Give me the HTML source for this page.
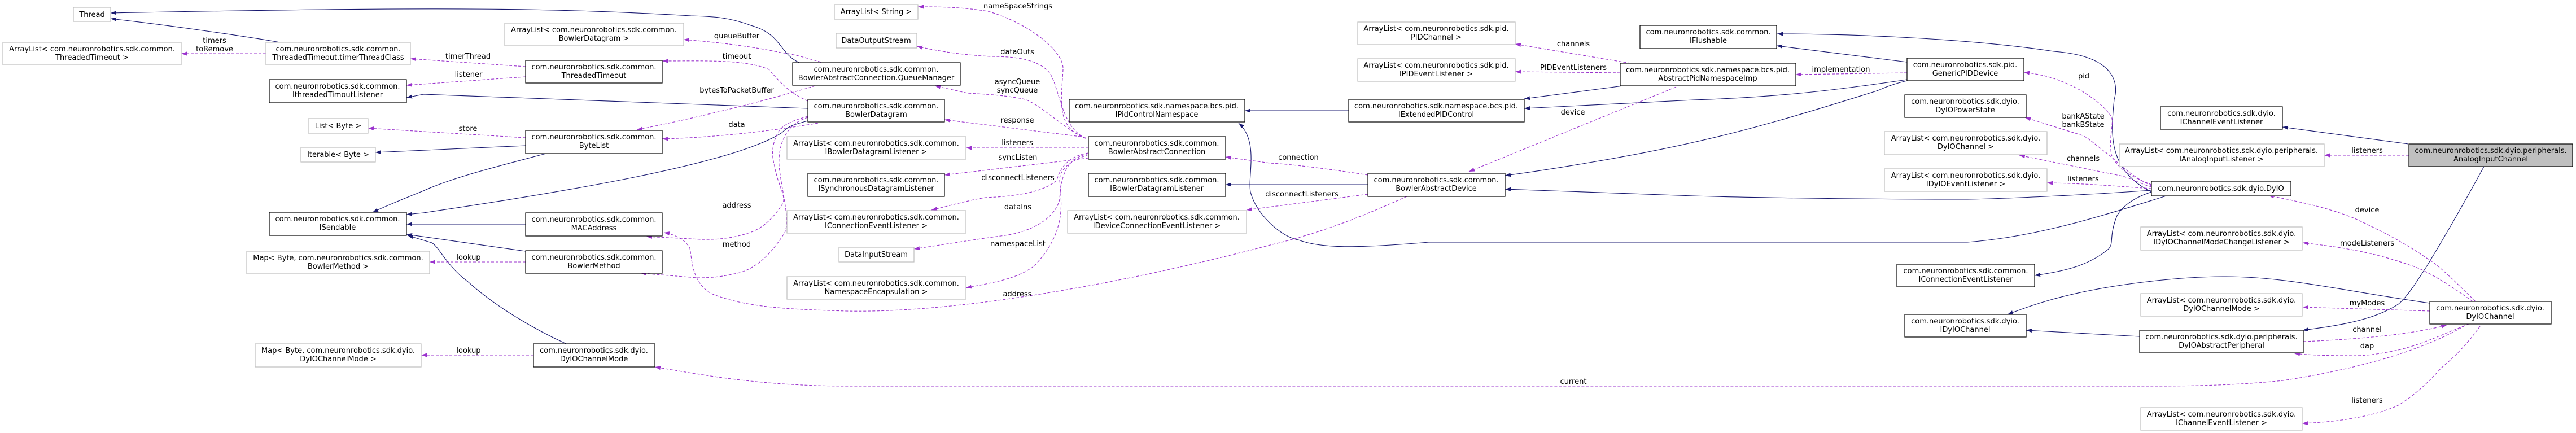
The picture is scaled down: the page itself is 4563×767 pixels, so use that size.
<!DOCTYPE html>
<html><head><meta charset="utf-8"><style>
html,body{margin:0;padding:0;background:#fff;}
svg{display:block;}
text{font-family:"DejaVu Sans","Liberation Sans",sans-serif;font-size:13px;fill:#000;}
.n text{text-anchor:middle;}
.l{text-anchor:middle;}
.s{fill:none;stroke:#191970;stroke-width:1.1;marker-end:url(#mb);}
.d{fill:none;stroke:#9a32cd;stroke-width:1.1;stroke-dasharray:5,3;marker-end:url(#mp);}
.g{fill:#fff;stroke:#bfbfbf;stroke-width:1.2;}
.b{fill:#fff;stroke:#000;stroke-width:1.2;}
.h{fill:#bfbfbf;stroke:#000;stroke-width:1.2;}
</style></head><body>
<svg width="4563" height="767" viewBox="0 0 4563 767" xmlns="http://www.w3.org/2000/svg">
<defs>
<marker id="mb" markerUnits="userSpaceOnUse" markerWidth="11" markerHeight="8" refX="10" refY="3.5" orient="auto"><path d="M0,0 L10,3.5 L0,7 z" fill="#191970"/></marker>
<marker id="mp" markerUnits="userSpaceOnUse" markerWidth="11" markerHeight="8" refX="10" refY="3.5" orient="auto"><path d="M0,0 L10,3.5 L0,7 z" fill="#9a32cd"/></marker>
</defs>

<!-- solid edges -->
<path class="s" d="M496,75 C420,62 300,45 196,33"/>
<path class="s" d="M1416,111 C1380,95 1385,60 1330,45 C1290,30 1260,29 1224,28 C1000,15 800,11 196,23"/>
<path class="s" d="M1431,192 L750,167 L720,173"/>
<path class="s" d="M931,258 L665,270"/>
<path class="s" d="M967,272 C880,295 800,315 750,338 C720,350 690,362 660,376"/>
<path class="s" d="M1431,214 C1400,222 1395,225 1385,235 C1300,290 1000,340 750,377 L720,380"/>
<path class="s" d="M931,397 L720,397"/>
<path class="s" d="M931,445 L720,415"/>
<path class="s" d="M1003,609 C950,585 880,545 830,500 C790,470 780,440 765,430 L722,417"/>
<path class="s" d="M2389,196 L2205,196"/>
<path class="s" d="M3837,347 C3700,390 3600,420 3485,429 L2531,429 C2400,440 2340,440 2300,425 C2270,420 2225,380 2215,340 C2210,310 2230,250 2194,218"/>
<path class="s" d="M2875,152 L2700,175"/>
<path class="s" d="M3378,141 C3250,160 3150,172 3000,177 L2700,192"/>
<path class="s" d="M3378,110 L3147,81"/>
<path class="s" d="M3811,340 C3730,300 3740,230 3745,176 C3750,160 3760,100 3638,91 C3500,70 3300,60 3148,60"/>
<path class="s" d="M3378,143 C3340,152 3330,160 3321,162 C3200,200 3100,230 3000,252 C2900,275 2750,300 2666,311"/>
<path class="s" d="M3811,337 C3700,345 3550,352 3485,353 C3300,353 3100,350 3000,347 L2666,335"/>
<path class="s" d="M3811,340 C3780,350 3760,365 3750,382 C3735,420 3745,430 3735,441 C3700,470 3660,480 3604,488"/>
<path class="s" d="M4304,537 C4150,515 4050,490 3942,490 C3850,490 3750,505 3700,515 C3640,527 3600,540 3556,557"/>
<path class="s" d="M3790,596 L3589,585"/>
<path class="s" d="M4400,295 C4370,350 4330,420 4299,471 C4280,500 4265,525 4248,539 C4200,570 4130,578 4079,585"/>
<path class="s" d="M4266,255 L4043,225"/>
<path class="s" d="M2423,327 L2171,327"/>

<!-- dashed edges -->
<path class="d" d="M471,95 L321,95"/>
<path class="d" d="M931,118 L727,104"/>
<path class="d" d="M931,136 L720,151"/>
<path class="d" d="M931,244 L652,227"/>
<path class="d" d="M931,464 L761,464"/>
<path class="d" d="M945,629 L746,629"/>
<path class="d" d="M1454,110 C1420,100 1400,95 1383,93 C1320,80 1260,74 1211,70"/>
<path class="d" d="M1431,179 C1400,165 1385,150 1362,123 C1320,105 1250,108 1173,108"/>
<path class="d" d="M1444,152 C1350,180 1250,205 1128,230"/>
<path class="d" d="M1449,218 C1350,235 1250,244 1173,246"/>
<path class="d" d="M1431,206 C1400,215 1385,222 1378,235 C1365,260 1368,280 1372,294 C1378,330 1395,350 1385,363 C1360,400 1340,410 1311,417 C1280,425 1250,425 1224,423 L1145,419"/>
<path class="d" d="M1431,208 C1390,220 1378,260 1380,294 C1385,340 1400,390 1390,412 C1360,460 1330,480 1301,485 C1270,492 1250,492 1235,492 L1135,484"/>
<path class="d" d="M2492,348 C2420,380 2350,410 2250,434 C2000,500 1700,555 1500,551 C1400,548 1320,545 1260,520 C1225,500 1226,460 1222,440 C1215,425 1195,415 1176,412"/>
<path class="d" d="M1923,245 C1870,225 1880,180 1883,123 C1885,90 1820,40 1750,20 C1700,12 1660,12 1626,12"/>
<path class="d" d="M1923,245 C1880,225 1878,160 1860,130 C1840,105 1800,100 1755,100 C1700,97 1660,90 1624,82"/>
<path class="d" d="M1923,245 C1880,225 1850,190 1816,176 C1780,168 1730,166 1714,165 L1656,152"/>
<path class="d" d="M1923,243 L1673,212"/>
<path class="d" d="M1928,262 L1711,262"/>
<path class="d" d="M1928,280 L1673,310"/>
<path class="d" d="M1928,271 C1900,275 1880,290 1872,319 C1850,340 1800,348 1745,350 C1710,356 1680,365 1650,372"/>
<path class="d" d="M1928,272 C1895,280 1880,300 1877,353 C1870,385 1830,410 1780,417 C1720,425 1660,435 1619,441"/>
<path class="d" d="M1928,274 C1895,285 1877,300 1877,319 C1880,360 1890,410 1832,471 C1800,495 1760,500 1711,510"/>
<path class="d" d="M2423,310 C2360,300 2280,290 2250,289 L2171,278"/>
<path class="d" d="M2423,344 L2208,372"/>
<path class="d" d="M2888,112 L2684,78"/>
<path class="d" d="M2870,129 L2684,127"/>
<path class="d" d="M2969,154 L2602,304"/>
<path class="d" d="M3378,129 L3181,132"/>
<path class="d" d="M3811,327 C3780,315 3750,300 3740,274 C3735,240 3745,220 3740,206 C3720,180 3700,170 3689,162 C3650,140 3620,132 3585,128"/>
<path class="d" d="M3811,329 C3770,310 3750,285 3730,270 C3710,255 3700,245 3689,240 L3587,208"/>
<path class="d" d="M3811,331 C3790,325 3780,318 3760,312 L3577,275"/>
<path class="d" d="M3811,334 C3750,330 3700,325 3626,324"/>
<path class="d" d="M4267,275 L4117,275"/>
<path class="d" d="M4385,534 C4350,500 4320,470 4304,461 C4260,430 4220,410 4171,387 C4120,366 4060,355 4018,346"/>
<path class="d" d="M4380,534 C4340,505 4300,480 4273,471 C4200,445 4140,437 4079,430"/>
<path class="d" d="M4304,551 L4079,544"/>
<path class="d" d="M4080,605 C4200,600 4280,590 4334,576"/>
<path class="d" d="M4373,574 C4320,595 4290,610 4248,620 C4210,628 4190,630 4171,630 C4120,630 4090,629 4064,626"/>
<path class="d" d="M4366,577 C4300,615 4200,650 4044,674 C3950,684 3850,684 3800,684 L1508,684 C1350,684 1250,665 1160,650"/>
<path class="d" d="M4393,578 C4370,610 4345,635 4324,652 C4300,680 4270,705 4248,718 C4200,740 4130,748 4078,750"/>

<!-- edge labels -->
<g class="l">
<text class="l" x="380" y="76">timers</text><text class="l" x="380" y="91">toRemove</text>
<text class="l" x="829" y="104">timerThread</text>
<text class="l" x="830" y="136">listener</text>
<text class="l" x="829" y="232">store</text>
<text class="l" x="830" y="460">lookup</text>
<text class="l" x="830" y="625">lookup</text>
<text class="l" x="1305" y="68">queueBuffer</text>
<text class="l" x="1305" y="104">timeout</text>
<text class="l" x="1305" y="164">bytesToPacketBuffer</text>
<text class="l" x="1305" y="225">data</text>
<text class="l" x="1305" y="368">address</text>
<text class="l" x="1305" y="437">method</text>
<text class="l" x="1803" y="15">nameSpaceStrings</text>
<text class="l" x="1802" y="96">dataOuts</text>
<text class="l" x="1802" y="149">asyncQueue</text><text class="l" x="1802" y="164">syncQueue</text>
<text class="l" x="1802" y="217">response</text>
<text class="l" x="1802" y="257">listeners</text>
<text class="l" x="1803" y="283">syncListen</text>
<text class="l" x="1803" y="319">disconnectListeners</text>
<text class="l" x="1803" y="371">dataIns</text>
<text class="l" x="1803" y="436">namespaceList</text>
<text class="l" x="1802" y="525">address</text>
<text class="l" x="2300" y="283">connection</text>
<text class="l" x="2306" y="348">disconnectListeners</text>
<text class="l" x="2787" y="82">channels</text>
<text class="l" x="2787" y="124">PIDEventListeners</text>
<text class="l" x="2786" y="203">device</text>
<text class="l" x="2787" y="680">current</text>
<text class="l" x="3261" y="127">implementation</text>
<text class="l" x="3691" y="139">pid</text>
<text class="l" x="3690" y="210">bankAState</text><text class="l" x="3690" y="225">bankBState</text>
<text class="l" x="3690" y="285">channels</text>
<text class="l" x="3690" y="321">listeners</text>
<text class="l" x="4193" y="271">listeners</text>
<text class="l" x="4193" y="376">device</text>
<text class="l" x="4193" y="435">modeListeners</text>
<text class="l" x="4193" y="541">myModes</text>
<text class="l" x="4193" y="588">channel</text>
<text class="l" x="4193" y="617">dap</text>
<text class="l" x="4193" y="713">listeners</text>
</g>

<!-- nodes -->
<g class="n">
<rect class="g" x="130" y="13" width="66" height="25"/><text x="163" y="30">Thread</text>
<rect class="g" x="5" y="75" width="316" height="40"/><text x="163" y="91">ArrayList&lt; com.neuronrobotics.sdk.common.</text><text x="163" y="106">ThreadedTimeout &gt;</text>
<rect class="g" x="471" y="75" width="256" height="40"/><text x="599" y="91">com.neuronrobotics.sdk.common.</text><text x="599" y="106">ThreadedTimeout.timerThreadClass</text>
<rect class="b" x="477" y="141" width="243" height="41"/><text x="598" y="157">com.neuronrobotics.sdk.common.</text><text x="598" y="172">IthreadedTimoutListener</text>
<rect class="g" x="546" y="210" width="106" height="26"/><text x="599" y="227">List&lt; Byte &gt;</text>
<rect class="g" x="533" y="261" width="132" height="26"/><text x="599" y="278">Iterable&lt; Byte &gt;</text>
<rect class="b" x="477" y="376" width="243" height="41"/><text x="598" y="392">com.neuronrobotics.sdk.common.</text><text x="598" y="407">ISendable</text>
<rect class="g" x="437" y="445" width="324" height="40"/><text x="599" y="461">Map&lt; Byte, com.neuronrobotics.sdk.common.</text><text x="599" y="476">BowlerMethod &gt;</text>
<rect class="g" x="452" y="609" width="294" height="41"/><text x="599" y="625">Map&lt; Byte, com.neuronrobotics.sdk.dyio.</text><text x="599" y="640">DyIOChannelMode &gt;</text>

<rect class="g" x="894" y="41" width="317" height="40"/><text x="1052" y="57">ArrayList&lt; com.neuronrobotics.sdk.common.</text><text x="1052" y="72">BowlerDatagram &gt;</text>
<rect class="b" x="931" y="107" width="242" height="40"/><text x="1052" y="123">com.neuronrobotics.sdk.common.</text><text x="1052" y="138">ThreadedTimeout</text>
<rect class="b" x="931" y="231" width="242" height="41"/><text x="1052" y="247">com.neuronrobotics.sdk.common.</text><text x="1052" y="262">ByteList</text>
<rect class="b" x="931" y="377" width="242" height="41"/><text x="1052" y="393">com.neuronrobotics.sdk.common.</text><text x="1052" y="408">MACAddress</text>
<rect class="b" x="931" y="444" width="242" height="40"/><text x="1052" y="460">com.neuronrobotics.sdk.common.</text><text x="1052" y="475">BowlerMethod</text>
<rect class="b" x="945" y="609" width="215" height="41"/><text x="1052" y="625">com.neuronrobotics.sdk.dyio.</text><text x="1052" y="640">DyIOChannelMode</text>

<rect class="g" x="1478" y="8" width="148" height="26"/><text x="1552" y="25">ArrayList&lt; String &gt;</text>
<rect class="g" x="1481" y="59" width="143" height="26"/><text x="1552" y="76">DataOutputStream</text>
<rect class="b" x="1404" y="111" width="297" height="40"/><text x="1552" y="127">com.neuronrobotics.sdk.common.</text><text x="1552" y="142">BowlerAbstractConnection.QueueManager</text>
<rect class="b" x="1431" y="176" width="242" height="40"/><text x="1552" y="192">com.neuronrobotics.sdk.common.</text><text x="1552" y="207">BowlerDatagram</text>
<rect class="g" x="1394" y="242" width="317" height="40"/><text x="1552" y="258">ArrayList&lt; com.neuronrobotics.sdk.common.</text><text x="1552" y="273">IBowlerDatagramListener &gt;</text>
<rect class="b" x="1431" y="307" width="242" height="41"/><text x="1552" y="323">com.neuronrobotics.sdk.common.</text><text x="1552" y="338">ISynchronousDatagramListener</text>
<rect class="g" x="1394" y="373" width="317" height="40"/><text x="1552" y="389">ArrayList&lt; com.neuronrobotics.sdk.common.</text><text x="1552" y="404">IConnectionEventListener &gt;</text>
<rect class="g" x="1486" y="438" width="133" height="26"/><text x="1552" y="455">DataInputStream</text>
<rect class="g" x="1394" y="490" width="317" height="40"/><text x="1552" y="506">ArrayList&lt; com.neuronrobotics.sdk.common.</text><text x="1552" y="521">NamespaceEncapsulation &gt;</text>

<rect class="b" x="1894" y="176" width="311" height="40"/><text x="2049" y="192">com.neuronrobotics.sdk.namespace.bcs.pid.</text><text x="2049" y="207">IPidControlNamespace</text>
<rect class="b" x="1928" y="242" width="243" height="40"/><text x="2049" y="258">com.neuronrobotics.sdk.common.</text><text x="2049" y="273">BowlerAbstractConnection</text>
<rect class="b" x="1928" y="307" width="243" height="41"/><text x="2049" y="323">com.neuronrobotics.sdk.common.</text><text x="2049" y="338">IBowlerDatagramListener</text>
<rect class="g" x="1891" y="373" width="317" height="40"/><text x="2049" y="389">ArrayList&lt; com.neuronrobotics.sdk.common.</text><text x="2049" y="404">IDeviceConnectionEventListener &gt;</text>

<rect class="g" x="2405" y="39" width="279" height="40"/><text x="2544" y="55">ArrayList&lt; com.neuronrobotics.sdk.pid.</text><text x="2544" y="70">PIDChannel &gt;</text>
<rect class="g" x="2405" y="104" width="279" height="40"/><text x="2544" y="120">ArrayList&lt; com.neuronrobotics.sdk.pid.</text><text x="2544" y="135">IPIDEventListener &gt;</text>
<rect class="b" x="2389" y="176" width="311" height="40"/><text x="2544" y="192">com.neuronrobotics.sdk.namespace.bcs.pid.</text><text x="2544" y="207">IExtendedPIDControl</text>
<rect class="b" x="2423" y="307" width="243" height="41"/><text x="2544" y="323">com.neuronrobotics.sdk.common.</text><text x="2544" y="338">BowlerAbstractDevice</text>

<rect class="b" x="2905" y="45" width="242" height="41"/><text x="3026" y="61">com.neuronrobotics.sdk.common.</text><text x="3026" y="76">IFlushable</text>
<rect class="b" x="2870" y="112" width="311" height="40"/><text x="3025" y="128">com.neuronrobotics.sdk.namespace.bcs.pid.</text><text x="3025" y="143">AbstractPidNamespaceImp</text>

<rect class="b" x="3378" y="103" width="207" height="40"/><text x="3481" y="119">com.neuronrobotics.sdk.pid.</text><text x="3481" y="134">GenericPIDDevice</text>
<rect class="b" x="3374" y="168" width="215" height="40"/><text x="3481" y="184">com.neuronrobotics.sdk.dyio.</text><text x="3481" y="199">DyIOPowerState</text>
<rect class="g" x="3338" y="233" width="288" height="41"/><text x="3482" y="249">ArrayList&lt; com.neuronrobotics.sdk.dyio.</text><text x="3482" y="264">DyIOChannel &gt;</text>
<rect class="g" x="3338" y="299" width="288" height="40"/><text x="3482" y="315">ArrayList&lt; com.neuronrobotics.sdk.dyio.</text><text x="3482" y="330">IDyIOEventListener &gt;</text>
<rect class="b" x="3360" y="468" width="244" height="40"/><text x="3482" y="484">com.neuronrobotics.sdk.common.</text><text x="3482" y="499">IConnectionEventListener</text>
<rect class="b" x="3374" y="557" width="215" height="40"/><text x="3481" y="573">com.neuronrobotics.sdk.dyio.</text><text x="3481" y="588">IDyIOChannel</text>

<rect class="b" x="3827" y="189" width="216" height="40"/><text x="3935" y="205">com.neuronrobotics.sdk.dyio.</text><text x="3935" y="220">IChannelEventListener</text>
<rect class="g" x="3754" y="255" width="363" height="40"/><text x="3935" y="271">ArrayList&lt; com.neuronrobotics.sdk.dyio.peripherals.</text><text x="3935" y="286">IAnalogInputListener &gt;</text>
<rect class="h" x="4267" y="255" width="290" height="40"/><text x="4412" y="271">com.neuronrobotics.sdk.dyio.peripherals.</text><text x="4412" y="286">AnalogInputChannel</text>
<rect class="b" x="3811" y="321" width="247" height="26"/><text x="3934" y="338">com.neuronrobotics.sdk.dyio.DyIO</text>
<rect class="g" x="3792" y="402" width="286" height="41"/><text x="3935" y="418">ArrayList&lt; com.neuronrobotics.sdk.dyio.</text><text x="3935" y="433">IDyIOChannelModeChangeListener &gt;</text>
<rect class="g" x="3792" y="520" width="286" height="40"/><text x="3935" y="536">ArrayList&lt; com.neuronrobotics.sdk.dyio.</text><text x="3935" y="551">DyIOChannelMode &gt;</text>
<rect class="b" x="3790" y="585" width="290" height="40"/><text x="3935" y="601">com.neuronrobotics.sdk.dyio.peripherals.</text><text x="3935" y="616">DyIOAbstractPeripheral</text>
<rect class="b" x="4304" y="534" width="215" height="40"/><text x="4411" y="550">com.neuronrobotics.sdk.dyio.</text><text x="4411" y="565">DyIOChannel</text>
<rect class="g" x="3792" y="722" width="286" height="40"/><text x="3935" y="738">ArrayList&lt; com.neuronrobotics.sdk.dyio.</text><text x="3935" y="753">IChannelEventListener &gt;</text>
</g>
</svg>
</body></html>
